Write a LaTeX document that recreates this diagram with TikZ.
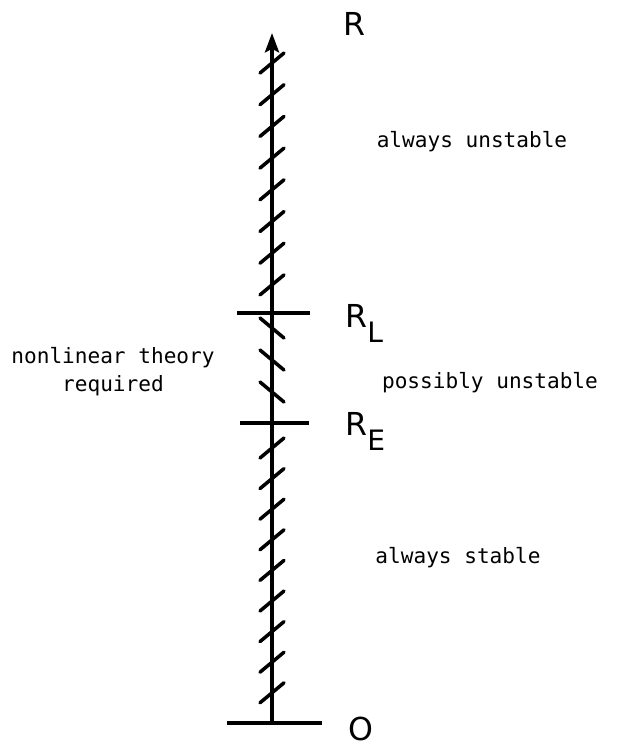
\documentclass[tikz,border=0pt]{standalone}
\usepackage{fontspec}
\setmonofont{DejaVu Sans Mono}
\setsansfont{DejaVu Sans}
\usepackage{tikz}
\usetikzlibrary{
  arrows.meta,              % Stealth 箭头
  positioning               % 节点相对定位
}
\tikzset{
  axisline/.style={line width=2.1pt},                                        % 主轴与横线
  hatch/.style={line width=2pt, line cap=round},                             % 斜短划
  bigsym/.style={font=\sffamily\fontsize{18}{18}\selectfont, inner sep=0pt}, % R、O 等符号
  region/.style={font=\ttfamily\fontsize{12}{16}\selectfont, inner sep=0pt, align=center} % 区域说明文字
}
\newcommand{\subsym}[2]{#1\raisebox{-9pt}{\fontsize{16}{16}\selectfont #2}} % 带下标的符号 R_L、R_E

\begin{document}
\begin{tikzpicture}[x=0.02cm, y=-0.02cm] % 以像素为单位，y 轴向下
  \useasboundingbox (0,0) rectangle (620,745); % 固定画面大小

  % 主轴
  \coordinate (base) at (272,723); % 轴的起点
  \coordinate (tip) at (272,33); % 箭头尖端
  \draw[axisline, -{Stealth[length=11pt, width=8pt, inset=2pt]}] (base) -- (tip); % 竖直轴线

  % 三条横线
  \coordinate (baseL) at (227,723); \coordinate (baseR) at (322,723); % 底线两端
  \coordinate (lowL) at (237,313); \coordinate (lowR) at (310,313); % R_L 处横线
  \coordinate (upL) at (240,423); \coordinate (upR) at (309,423); % R_E 处横线
  \draw[axisline] (baseL) -- (baseR); % 底线
  \draw[axisline] (lowL) -- (lowR); % R_L 横线
  \draw[axisline] (upL) -- (upR); % R_E 横线

  % 斜短划：上段与下段为 "/"，中段为 "\"
  \foreach \i in {0,...,7}
    \draw[hatch] ({272-12},{63+31.7*\i+10}) -- ++(24,-20); % 上段
  \foreach \i in {0,...,2}
    \draw[hatch] ({272-12},{328+32*\i-10}) -- ++(24,20); % 中段
  \foreach \i in {0,...,8}
    \draw[hatch] ({272-12},{448+30.6*\i+10}) -- ++(24,-20); % 下段

  % 符号标注
  \node[bigsym, anchor=base west] (labR) at (343,35) {R}; % 轴名
  \node[bigsym, anchor=base west] (labRL) at (345,327) {\subsym{R}{L}}; % R_L
  \node[bigsym, anchor=base west] (labRE) at (345,435) {\subsym{R}{E}}; % R_E
  \node[bigsym, anchor=base west] (labO) at (348,740) {O}; % 原点

  % 区域说明
  \node[region] (unst) at (472,142) {always unstable}; % 上区
  \node[region] (poss) at (490,383) {possibly unstable}; % 中区
  \node[region] (stab) at (458,558) {always stable}; % 下区
  \node[region] (nonlin) at (113,372) {nonlinear theory\\required}; % 左侧说明
\end{tikzpicture}
\end{document}
